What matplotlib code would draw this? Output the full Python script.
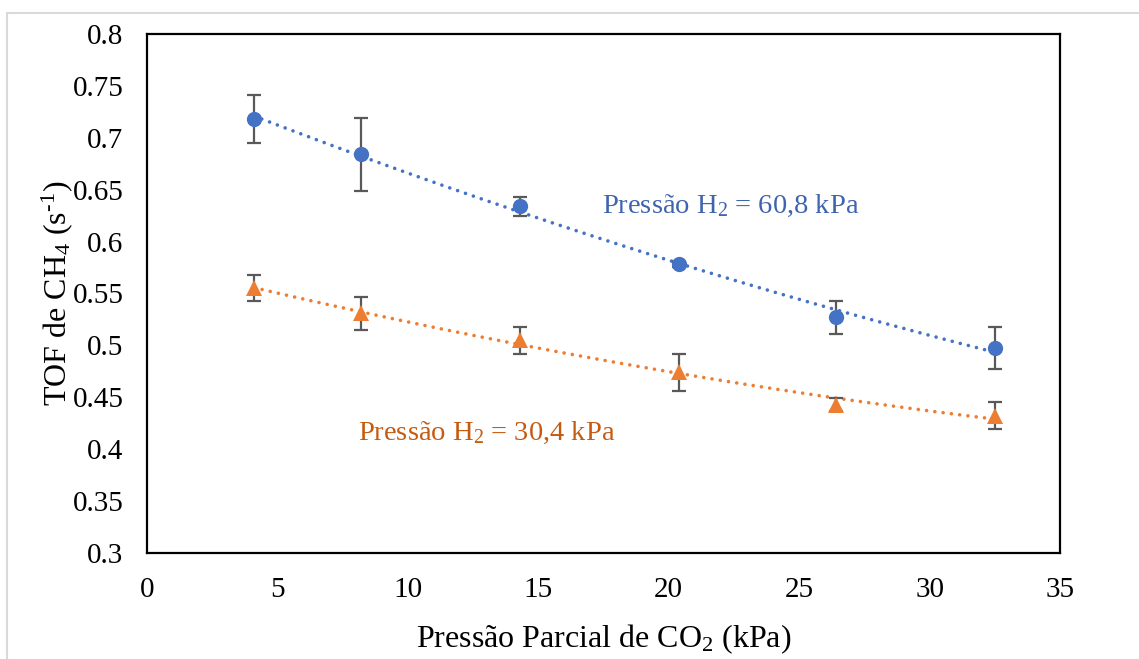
import numpy as np
import matplotlib
matplotlib.use("Agg")
import matplotlib.pyplot as plt
from matplotlib.patches import Rectangle

plt.rcParams['font.family'] = ['Liberation Serif', 'DejaVu Serif']
plt.rcParams['mathtext.fontset'] = 'custom'
plt.rcParams['mathtext.rm'] = 'Liberation Serif'
plt.rcParams['mathtext.it'] = 'Liberation Serif'
plt.rcParams['mathtext.bf'] = 'Liberation Serif:bold'

# Data
x_co2 = [4.1, 8.2, 14.3, 20.4, 26.4, 32.5]
tof_h2_608 = [0.718, 0.684, 0.634, 0.578, 0.527, 0.4975]
err_h2_608 = [0.023, 0.035, 0.009, 0.002, 0.016, 0.020]
tof_h2_304 = [0.555, 0.531, 0.505, 0.474, 0.443, 0.432]
err_h2_304 = [0.0125, 0.016, 0.013, 0.018, 0.006, 0.013]
x_ticks = [0, 5, 10, 15, 20, 25, 30, 35]
y_ticks = [0.3, 0.35, 0.4, 0.45, 0.5, 0.55, 0.6, 0.65, 0.7, 0.75, 0.8]
y_tick_labels = ['0.3', '0.35', '0.4', '0.45', '0.5', '0.55', '0.6', '0.65', '0.7', '0.75', '0.8']

blue = '#4472C4'
orange = '#ED7D31'
blue_txt = '#3E64AE'
orange_txt = '#C55A11'
err_col = '#595959'

W, H = 1139, 659
fig = plt.figure(figsize=(W / 100, H / 100), dpi=100)
ax = fig.add_axes([147 / W, 1 - 553 / H, (1060 - 147) / W, (553 - 34) / H])

# outer light border
fig.patches.append(Rectangle((7 / W, -0.05), (W + 10) / W, 1 - 13 / H + 0.05,
                             transform=fig.transFigure, fill=False,
                             edgecolor='#D9D9D9', linewidth=1.5, clip_on=False))

x = np.array(x_co2)
for y, e, col, mk, ms in [(tof_h2_608, err_h2_608, blue, 'o', 11),
                          (tof_h2_304, err_h2_304, orange, '^', 11.5)]:
    y = np.array(y)
    coef = np.polyfit(x, y, 2)
    xx = np.linspace(x.min(), x.max(), 200)
    ax.plot(xx, np.polyval(coef, xx), color=col, linewidth=2.6,
            linestyle=(0, (0.01, 2.3)), dash_capstyle='round', zorder=2)
    ax.errorbar(x, y, yerr=e, fmt='none', ecolor=err_col, elinewidth=1.6,
                capsize=4.8, capthick=1.6, zorder=3)
    ax.plot(x, y, linestyle='none', marker=mk, markersize=ms, color=col,
            markeredgewidth=0, zorder=4)

ax.set_xlim(0, 35)
ax.set_ylim(0.3, 0.8)
ax.set_xticks(x_ticks)
ax.set_yticks(y_ticks)
ax.set_yticklabels(y_tick_labels)
ax.tick_params(length=0, labelsize=21, pad=17)
for s in ax.spines.values():
    s.set_linewidth(1.6)
    s.set_color('black')

ax.set_xlabel(r'Pressão Parcial de CO$_{\mathregular{2}}$ (kPa)', fontsize=23, labelpad=14)
ax.set_ylabel(r'TOF de CH$_{\mathregular{4}}$ (s$^{\text{-1}}$)', fontsize=23, labelpad=-2)

ax.text(17.45, 0.634, r'Pressão H$_2$ = 60,8 kPa', color=blue_txt, fontsize=20.5,
        ha='left', va='center')
ax.text(8.1, 0.416, r'Pressão H$_2$ = 30,4 kPa', color=orange_txt, fontsize=20.5,
        ha='left', va='center')

fig.savefig('out.png', dpi=100)
